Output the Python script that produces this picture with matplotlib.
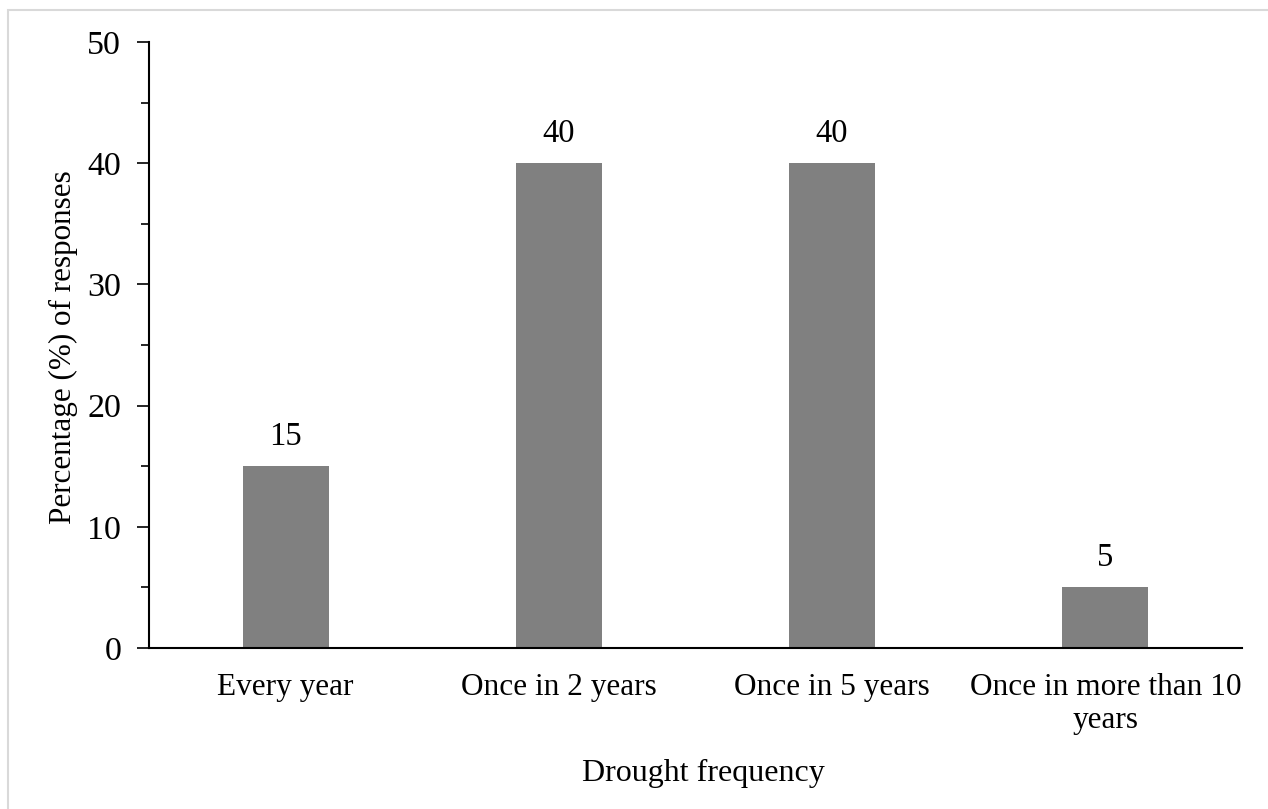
import matplotlib
matplotlib.use("Agg")
import matplotlib.pyplot as plt
from matplotlib.patches import Rectangle
from matplotlib.ticker import MultipleLocator

categories = ["Every year", "Once in 2 years", "Once in 5 years", "Once in more than 10\nyears"]
values = [15, 40, 40, 5]

plt.rcParams['font.family'] = ['Liberation Serif', 'DejaVu Serif']

W, H = 1268, 809
fig = plt.figure(figsize=(W/100, H/100), dpi=100)
ax = fig.add_axes([149/W, 1-648/H, (1242-149)/W, (648-42)/H])

x = range(len(categories))
bars = ax.bar(x, values, width=0.315, color='#808080')
for xi, v in zip(x, values):
    ax.text(xi, v + 1.15, f"{v}", ha='center', va='bottom', fontsize=23.5)

ax.set_xlim(-0.5, len(categories) - 0.5)
ax.set_ylim(0, 50)
ax.yaxis.set_major_locator(MultipleLocator(10))
ax.yaxis.set_minor_locator(MultipleLocator(5))
ax.set_xticks(list(x))
ax.set_xticklabels(categories, fontsize=22.5, linespacing=1.2)
ax.tick_params(axis='x', length=0, pad=18)
ax.tick_params(axis='y', which='major', length=9, width=1.2, labelsize=24.5, pad=11)
ax.tick_params(axis='y', which='minor', length=6, width=1.2)
for s in ['top', 'right']:
    ax.spines[s].set_visible(False)
ax.spines['left'].set_linewidth(1.5)
ax.spines['bottom'].set_linewidth(1.5)

fig.text(63/W, 1-347/H, "Percentage (%) of responses", rotation=90, ha='center', va='center', fontsize=22.4)
fig.text((581+826)/2/W, 1-773/H, "Drought frequency", ha='center', va='center', fontsize=23)

fig.patches.append(Rectangle((8/W, -0.1), 1.2, 1-10/H+0.1, transform=fig.transFigure,
                             fill=False, edgecolor='#d9d9d9', linewidth=1.5))

fig.savefig("out.png", dpi=100)
